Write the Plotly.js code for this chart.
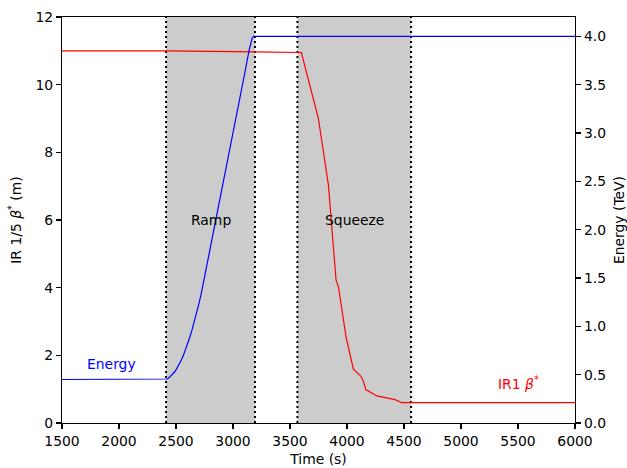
<!DOCTYPE html>
<html>
<head>
<meta charset="utf-8">
<script src="https://cdn.plot.ly/plotly-3.0.1.min.js"></script>
<style>html,body{margin:0;padding:0;background:#fff;}#chart{width:627px;height:468px;}</style>
</head>
<body>
<div id="chart"></div>
<script>
// Energy (TeV) vs time (s)
const energyTime = [1500, 2413, 2425, 2440, 2455, 2470, 2485, 2500, 2515, 2530, 2548, 2565, 2583, 2600, 2620, 2640, 2660, 2680, 2700, 2720, 2800, 2900, 3000, 3100, 3140, 3155, 3168, 3180, 6000];
const energyTeV  = [0.45, 0.45, 0.455, 0.47, 0.485, 0.50, 0.525, 0.55, 0.58, 0.61, 0.655, 0.70, 0.755, 0.81, 0.885, 0.96, 1.045, 1.13, 1.23, 1.33, 1.80, 2.40, 3.00, 3.60, 3.85, 3.93, 3.98, 4.00, 4.00];

// IR1 beta* (m) vs time (s)
const betaTime = [1500, 2413, 3600, 3749, 3837, 3862, 3904, 3925, 3992, 4056, 4115, 4139, 4165, 4262, 4422, 4481, 6000];
const betaStar = [11.0, 11.0, 10.95, 9.0, 7.03, 5.9, 4.22, 4.02, 2.54, 1.59, 1.41, 1.28, 0.99, 0.80, 0.69, 0.60, 0.60];

// Phases
const phaseNames = ["Ramp", "Squeeze"];
const phaseStart = [2413, 3565];
const phaseEnd   = [3193, 4562];

const xTicks = [1500, 2000, 2500, 3000, 3500, 4000, 4500, 5000, 5500, 6000];
const yTicks = [0, 2, 4, 6, 8, 10, 12];
const y2Ticks = [0, 0.5, 1.0, 1.5, 2.0, 2.5, 3.0, 3.5, 4.0];

const FONT = "DejaVu Sans, sans-serif";
const FS = 13.9;

const shapes = [];
phaseStart.forEach((s, i) => {
  shapes.push({type: "rect", xref: "x", yref: "paper", x0: s, x1: phaseEnd[i], y0: 0, y1: 1,
    fillcolor: "#cccccc", line: {width: 0}, layer: "below"});
});
phaseStart.forEach((s, i) => {
  [s, phaseEnd[i]].forEach(xv => {
    shapes.push({type: "line", xref: "x", yref: "paper", x0: xv, x1: xv, y0: 0, y1: 1,
      line: {color: "#000", width: 2, dash: "2px,3px"}, layer: "below"});
  });
});

const annotations = [];
phaseNames.forEach((n, i) => {
  annotations.push({x: (phaseStart[i] + phaseEnd[i]) / 2, y: 6.0, xref: "x", yref: "y", text: n,
    showarrow: false, xanchor: "center", yanchor: "middle", font: {family: FONT, size: FS, color: "#000"}});
});
annotations.push({x: 1702, y: 1.73, xref: "x", yref: "y", text: "Energy", showarrow: false,
  xanchor: "left", yanchor: "middle", font: {family: FONT, size: FS, color: "#0000ff"}});
annotations.push({x: 5305, y: 1.17, xref: "x", yref: "y", text: "IR1 <i>β</i><sup>*</sup>", showarrow: false,
  xanchor: "left", yanchor: "middle", font: {family: FONT, size: FS, color: "#ff0000"}});

const traces = [
  {x: betaTime, y: betaStar, type: "scatter", mode: "lines", yaxis: "y",
   line: {color: "#ff0000", width: 1.2}, hoverinfo: "skip"},
  {x: energyTime, y: energyTeV, type: "scatter", mode: "lines", yaxis: "y2",
   line: {color: "#0000ff", width: 1.2}, hoverinfo: "skip"}
];

const axisCommon = {
  showgrid: false, zeroline: false, showline: true, linecolor: "#000", linewidth: 1.1,
  ticks: "outside", ticklen: 5, tickwidth: 1.1, tickcolor: "#000",
  tickfont: {family: FONT, size: FS, color: "#000"}
};

const layout = {
  width: 627, height: 468,
  margin: {l: 62, r: 52, t: 17, b: 45, pad: 0},
  paper_bgcolor: "#fff", plot_bgcolor: "#fff",
  showlegend: false,
  font: {family: FONT, size: FS, color: "#000"},
  xaxis: Object.assign({}, axisCommon, {
    range: [1500, 6000], tickvals: xTicks, ticktext: xTicks.map(String), mirror: true,
    title: {text: "Time (s)", font: {family: FONT, size: FS, color: "#000"}, standoff: 6}
  }),
  yaxis: Object.assign({}, axisCommon, {
    range: [0, 12], tickvals: yTicks, ticktext: yTicks.map(String), mirror: true,
    title: {text: "IR 1/5 <i>β</i><sup>*</sup> (m)", font: {family: FONT, size: FS, color: "#000"}, standoff: 10}
  }),
  yaxis2: Object.assign({}, axisCommon, {
    range: [0, 4.2], overlaying: "y", side: "right", anchor: "x",
    tickvals: y2Ticks, ticktext: y2Ticks.map(v => v.toFixed(1)),
    title: {text: "Energy (TeV)", font: {family: FONT, size: FS, color: "#000"}, standoff: 10}
  }),
  shapes: shapes,
  annotations: annotations
};

Plotly.newPlot("chart", traces, layout, {staticPlot: true, displayModeBar: false});
</script>
</body>
</html>
